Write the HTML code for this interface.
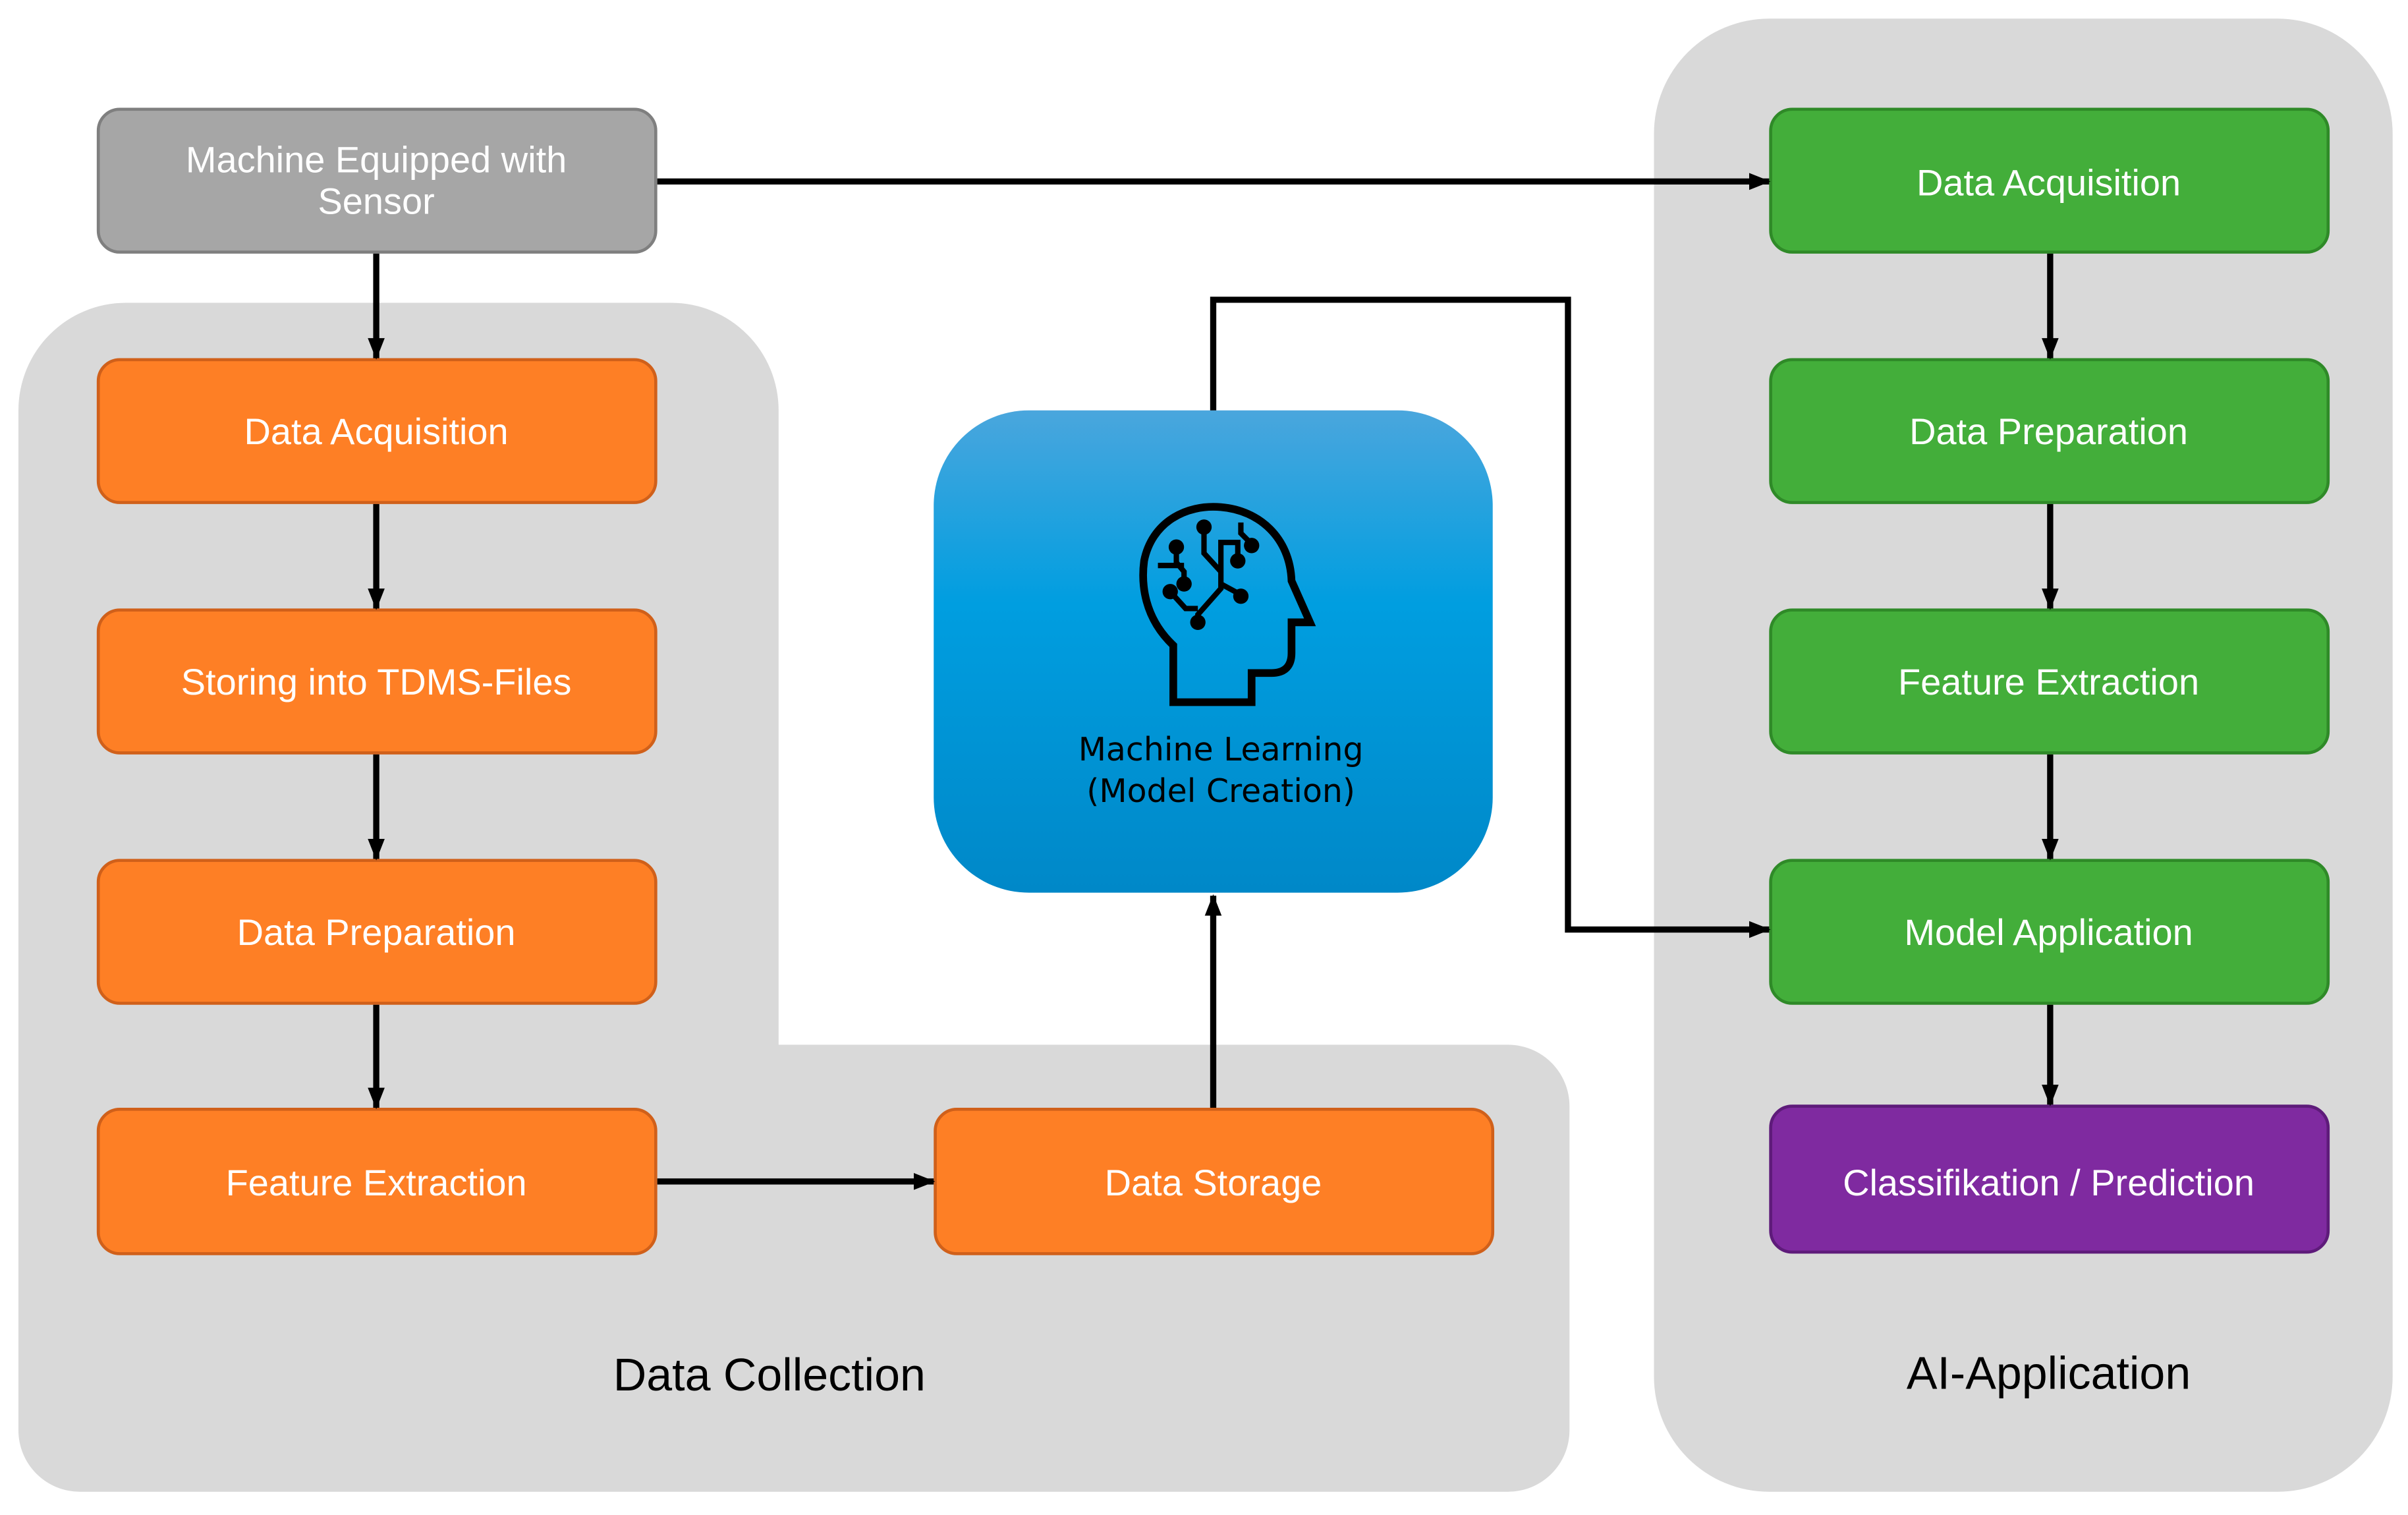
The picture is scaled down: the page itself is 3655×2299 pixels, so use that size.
<!DOCTYPE html>
<html><head><meta charset="utf-8"><style>html,body{margin:0;padding:0;background:#fff}svg{display:block}</style></head>
<body>
<svg width="3655" height="2299" viewBox="0 0 1568 986" xmlns="http://www.w3.org/2000/svg">
<defs>
<marker id="a" markerWidth="14" markerHeight="12" refX="13" refY="6" orient="auto" markerUnits="userSpaceOnUse" viewBox="0 0 14 12"><path d="M0,0.5 L14,6 L0,11.5 Z" fill="#000"/></marker>
<linearGradient id="g" x1="0" y1="0" x2="0" y2="1"><stop offset="0" stop-color="#4aa6dd"/><stop offset="0.4" stop-color="#009ee0"/><stop offset="1" stop-color="#0088c8"/></linearGradient>
</defs>
<rect width="1568" height="986" fill="#fff"/>
<path d="M82 197 H437 A70 70 0 0 1 507 267 V680 H982 A40 40 0 0 1 1022 720 V931 A40 40 0 0 1 982 971 H52 A40 40 0 0 1 12 931 V267 A70 70 0 0 1 82 197 Z" fill="#d9d9d9"/>
<rect x="1077" y="12" width="481" height="959" rx="75" fill="#d9d9d9"/>
<g font-family="Liberation Sans, DejaVu Sans, sans-serif" font-size="24" fill="#fff" text-anchor="middle">
<rect x="64" y="71" width="363" height="93" rx="14" fill="#a6a6a6" stroke="#7f7f7f" stroke-width="2"/>
<text x="245" y="112">Machine Equipped with</text><text x="245" y="139">Sensor</text>
<g fill="#fe7f25" stroke="#d0601a" stroke-width="2">
<rect x="64" y="234" width="363" height="93" rx="14"/>
<rect x="64" y="397" width="363" height="93" rx="14"/>
<rect x="64" y="560" width="363" height="93" rx="14"/>
<rect x="64" y="722" width="363" height="94" rx="14"/>
<rect x="609" y="722" width="363" height="94" rx="14"/>
</g>
<text x="245" y="289">Data Acquisition</text>
<text x="245" y="452">Storing into TDMS-Files</text>
<text x="245" y="615">Data Preparation</text>
<text x="245" y="778">Feature Extraction</text>
<text x="790" y="778">Data Storage</text>
<g fill="#43ae3a" stroke="#2f8a28" stroke-width="2">
<rect x="1153" y="71" width="363" height="93" rx="14"/>
<rect x="1153" y="234" width="363" height="93" rx="14"/>
<rect x="1153" y="397" width="363" height="93" rx="14"/>
<rect x="1153" y="560" width="363" height="93" rx="14"/>
</g>
<rect x="1153" y="720" width="363" height="95" rx="14" fill="#7f2aa0" stroke="#5e1b7a" stroke-width="2"/>
<text x="1334" y="127">Data Acquisition</text>
<text x="1334" y="289">Data Preparation</text>
<text x="1334" y="452">Feature Extraction</text>
<text x="1334" y="615">Model Application</text>
<text x="1334" y="778">Classifikation / Prediction</text>
</g>
<rect x="608" y="267" width="364" height="314" rx="62" fill="url(#g)"/>
<g fill="none" stroke="#000" stroke-width="5" stroke-linejoin="miter">
<path d="M764 455 V420 C745 402 743 380 745 365 C750 340 772 328 795 330 C820 332 840 350 841 378 L853 405 H841 V425 C841 435 835 438 828 438 H815 V457 H764 Z"/>
</g>
<g stroke="#000" stroke-width="3.5" fill="none">
<path d="M784 343 V360 L795 372"/><path d="M795 372 V383 L780 400 V405"/>
<path d="M795 372 V353 H806 V363"/><path d="M795 380 L808 387"/>
<path d="M808 340 V347 L815 354"/><path d="M766 356 V366 L771 372 V378"/>
<path d="M754 368 H771"/><path d="M762 385 L772 396 L780 396"/>
</g>
<g fill="#000">
<circle cx="784" cy="343" r="5"/><circle cx="766" cy="356" r="5"/><circle cx="806" cy="365" r="5"/>
<circle cx="815" cy="355" r="5"/><circle cx="771" cy="380" r="5"/><circle cx="762" cy="385" r="5"/>
<circle cx="808" cy="388" r="5"/><circle cx="780" cy="405" r="5"/>
</g>
<g font-family="DejaVu Sans, sans-serif" font-size="21" fill="#000" text-anchor="middle">
<text x="795" y="495">Machine Learning</text><text x="795" y="522">(Model Creation)</text>
</g>
<g font-family="Liberation Sans, DejaVu Sans, sans-serif" font-size="30" fill="#000" text-anchor="middle">
<text x="501" y="905">Data Collection</text><text x="1334" y="904">AI-Application</text>
</g>
<g stroke="#000" stroke-width="4" fill="none" marker-end="url(#a)">
<path d="M428 118 H1152"/>
<path d="M245 165 V233"/><path d="M245 328 V396"/><path d="M245 491 V559"/><path d="M245 654 V721"/>
<path d="M428 769 H608"/>
<path d="M790 721 V583"/>
<path d="M790 267 V195 H1021 V605 H1152"/>
<path d="M1335 165 V233"/><path d="M1335 328 V396"/><path d="M1335 491 V559"/><path d="M1335 654 V719"/>
</g>
</svg>
</body></html>
